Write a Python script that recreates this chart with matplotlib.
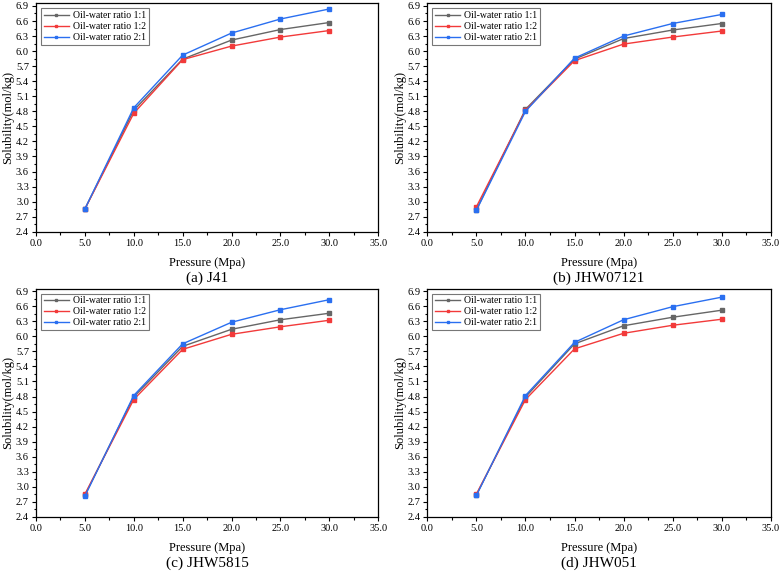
import numpy as np
import matplotlib
matplotlib.use('Agg')
import matplotlib.pyplot as plt
from matplotlib.ticker import MultipleLocator, FormatStrFormatter

plt.rcParams['font.family'] = ['Liberation Serif', 'DejaVu Serif']

# 数据
pressure = [5, 10, 15, 20, 25, 30]
series_names = ['Oil-water ratio 1:1', 'Oil-water ratio 1:2', 'Oil-water ratio 2:1']
panel_titles = ['(a) J41', '(b) JHW07121', '(c) JHW5815', '(d) JHW051']

j41_11 = [2.85, 4.82, 5.84, 6.22, 6.43, 6.57]
j41_12 = [2.85, 4.76, 5.83, 6.10, 6.28, 6.41]
j41_21 = [2.85, 4.87, 5.92, 6.36, 6.64, 6.84]

jhw07121_11 = [2.84, 4.84, 5.84, 6.25, 6.42, 6.55]
jhw07121_12 = [2.90, 4.82, 5.81, 6.14, 6.28, 6.40]
jhw07121_21 = [2.83, 4.80, 5.86, 6.30, 6.55, 6.73]

jhw5815_11 = [2.83, 4.79, 5.80, 6.14, 6.33, 6.46]
jhw5815_12 = [2.85, 4.74, 5.74, 6.04, 6.19, 6.32]
jhw5815_21 = [2.81, 4.82, 5.85, 6.28, 6.53, 6.73]

jhw051_11 = [2.84, 4.79, 5.85, 6.21, 6.38, 6.52]
jhw051_12 = [2.86, 4.74, 5.75, 6.06, 6.22, 6.34]
jhw051_21 = [2.83, 4.82, 5.88, 6.33, 6.59, 6.78]

panels = [
    (j41_11, j41_12, j41_21),
    (jhw07121_11, jhw07121_12, jhw07121_21),
    (jhw5815_11, jhw5815_12, jhw5815_21),
    (jhw051_11, jhw051_12, jhw051_21),
]
colors = ['#666666', '#f23a3a', '#2a6ff0']

fig = plt.figure(figsize=(7.8, 5.75), dpi=100)
positions = [
    [0.046, 0.597, 0.439, 0.397],
    [0.548, 0.597, 0.440, 0.397],
    [0.046, 0.101, 0.439, 0.397],
    [0.548, 0.101, 0.440, 0.397],
]

for pos, data, title in zip(positions, panels, panel_titles):
    ax = fig.add_axes(pos)
    for vals, name, c in zip(data, series_names, colors):
        ax.plot(pressure, vals, color=c, marker='s', markersize=2.2, lw=1.0, label=name)
    ax.set_xlim(0, 35)
    ax.set_ylim(2.4, 6.95)
    ax.xaxis.set_major_locator(MultipleLocator(5))
    ax.xaxis.set_minor_locator(MultipleLocator(2.5))
    ax.yaxis.set_major_locator(MultipleLocator(0.3))
    ax.yaxis.set_minor_locator(MultipleLocator(0.15))
    ax.xaxis.set_major_formatter(FormatStrFormatter('%.1f'))
    ax.yaxis.set_major_formatter(FormatStrFormatter('%.1f'))
    ax.tick_params(which='both', direction='out', labelsize=7.5, top=False, right=False)
    ax.tick_params(which='major', length=3, width=0.8, pad=2)
    ax.tick_params(which='minor', length=1.8, width=0.8)
    for s in ax.spines.values():
        s.set_linewidth(0.9)
    ax.set_xlabel('Pressure (Mpa)', fontsize=9, labelpad=6.5)
    ax.set_ylabel('Solubility(mol/kg)', fontsize=9, labelpad=1)
    leg = ax.legend(loc='upper left', fontsize=7, frameon=True, fancybox=False,
                    borderaxespad=0.5, handlelength=2.6, labelspacing=0.2,
                    borderpad=0.3, handletextpad=0.4, markerscale=0.8)
    leg.get_frame().set_edgecolor('#555555')
    leg.get_frame().set_linewidth(0.8)
    ax.text(0.5, -0.205, title, transform=ax.transAxes, ha='center', va='center', fontsize=11)

fig.savefig('out.png', dpi=100)
